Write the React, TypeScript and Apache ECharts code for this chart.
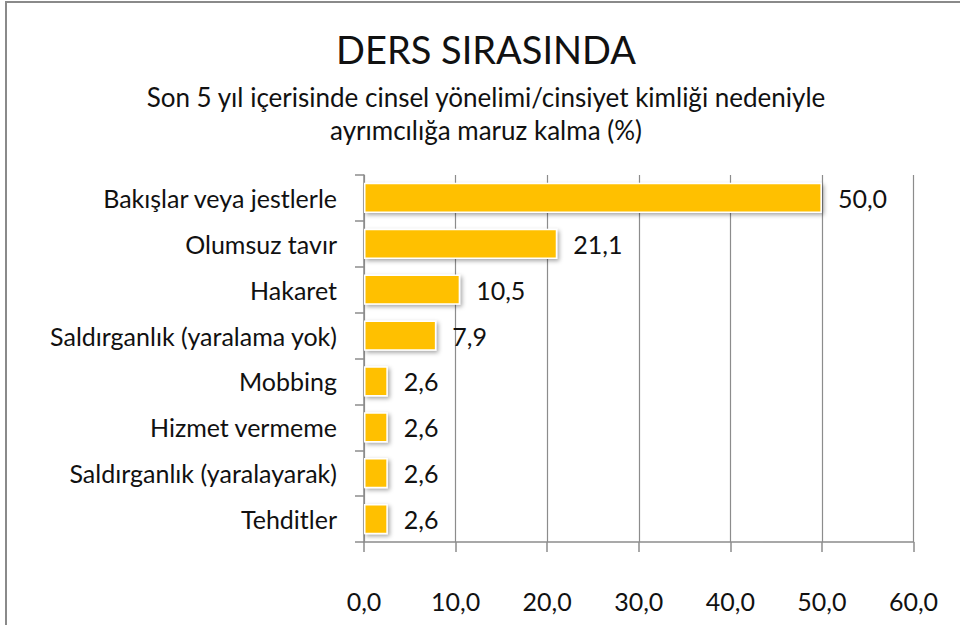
import React, { useEffect, useRef } from "react";
import * as echarts from "echarts";

const titleText = "DERS SIRASINDA";
const subtitleLines = [
  "Son 5 yıl içerisinde cinsel yönelimi/cinsiyet kimliği nedeniyle",
  "ayrımcılığa maruz kalma (%)",
];
const categories = [
  "Bakışlar veya jestlerle",
  "Olumsuz tavır",
  "Hakaret",
  "Saldırganlık (yaralama yok)",
  "Mobbing",
  "Hizmet vermeme",
  "Saldırganlık (yaralayarak)",
  "Tehditler",
];
const values = [50.0, 21.1, 10.5, 7.9, 2.6, 2.6, 2.6, 2.6];
const axisMin = 0;
const axisMax = 60;
const axisInterval = 10;

const FONT = "Lato, 'Open Sans', sans-serif";
const fmt = (v: number) => v.toFixed(1).replace(".", ",");

export default function App() {
  const ref = useRef<HTMLDivElement>(null);
  useEffect(() => {
    if (!ref.current) return;
    const chart = echarts.init(ref.current, undefined, { renderer: "svg" });
    chart.setOption({
      animation: false,
      backgroundColor: "#fff",
      textStyle: { fontFamily: FONT },
      graphic: [
        {
          type: "rect",
          shape: { x: 6, y: 2, width: 1000, height: 700 },
          style: { fill: "none", stroke: "#8a8a8a", lineWidth: 2 },
          silent: true,
        },
        {
          type: "text",
          x: 486,
          y: 49,
          style: {
            text: titleText,
            font: `38px ${FONT}`,
            fill: "#111",
            align: "center",
            verticalAlign: "middle",
          },
        },
        {
          type: "text",
          x: 486,
          y: 97,
          style: {
            text: subtitleLines[0],
            font: `26px ${FONT}`,
            fill: "#111",
            align: "center",
            verticalAlign: "middle",
          },
        },
        {
          type: "text",
          x: 486,
          y: 130,
          style: {
            text: subtitleLines[1],
            font: `26px ${FONT}`,
            fill: "#111",
            align: "center",
            verticalAlign: "middle",
          },
        },
      ],
      grid: { left: 364, right: 46.5, top: 175, bottom: 83, containLabel: false },
      xAxis: {
        type: "value",
        min: axisMin,
        max: axisMax,
        interval: axisInterval,
        axisLine: { show: true, lineStyle: { color: "#8c8c8c", width: 1.5 } },
        axisTick: { show: true, length: 10, lineStyle: { color: "#8c8c8c", width: 1.5 } },
        splitLine: { show: true, lineStyle: { color: "#8c8c8c", width: 1.2 } },
        axisLabel: {
          margin: 46,
          fontSize: 25,
          color: "#111",
          fontFamily: FONT,
          formatter: (v: number) => fmt(v),
        },
      },
      yAxis: {
        type: "category",
        data: categories,
        inverse: true,
        axisLine: { show: true, lineStyle: { color: "#8c8c8c", width: 1.5 } },
        axisTick: { show: true, length: 9, lineStyle: { color: "#8c8c8c", width: 1.5 } },
        axisLabel: { margin: 27, fontSize: 25, color: "#111", fontFamily: FONT },
      },
      series: [
        {
          type: "bar",
          data: values,
          barWidth: "66%",
          itemStyle: {
            color: "#FFC000",
            borderColor: "#fff",
            borderWidth: 1.5,
            shadowBlur: 4,
            shadowColor: "rgba(0,0,0,0.35)",
            shadowOffsetX: 2,
            shadowOffsetY: 2,
          },
          label: {
            show: true,
            position: "right",
            distance: 16,
            fontSize: 25,
            color: "#111",
            fontFamily: FONT,
            formatter: (p: any) => fmt(p.value),
          },
        },
      ],
    });
    return () => chart.dispose();
  }, []);
  return (
    <div
      ref={ref}
      style={{ position: "fixed", left: 0, top: 0, width: 960, height: 625 }}
    />
  );
}
